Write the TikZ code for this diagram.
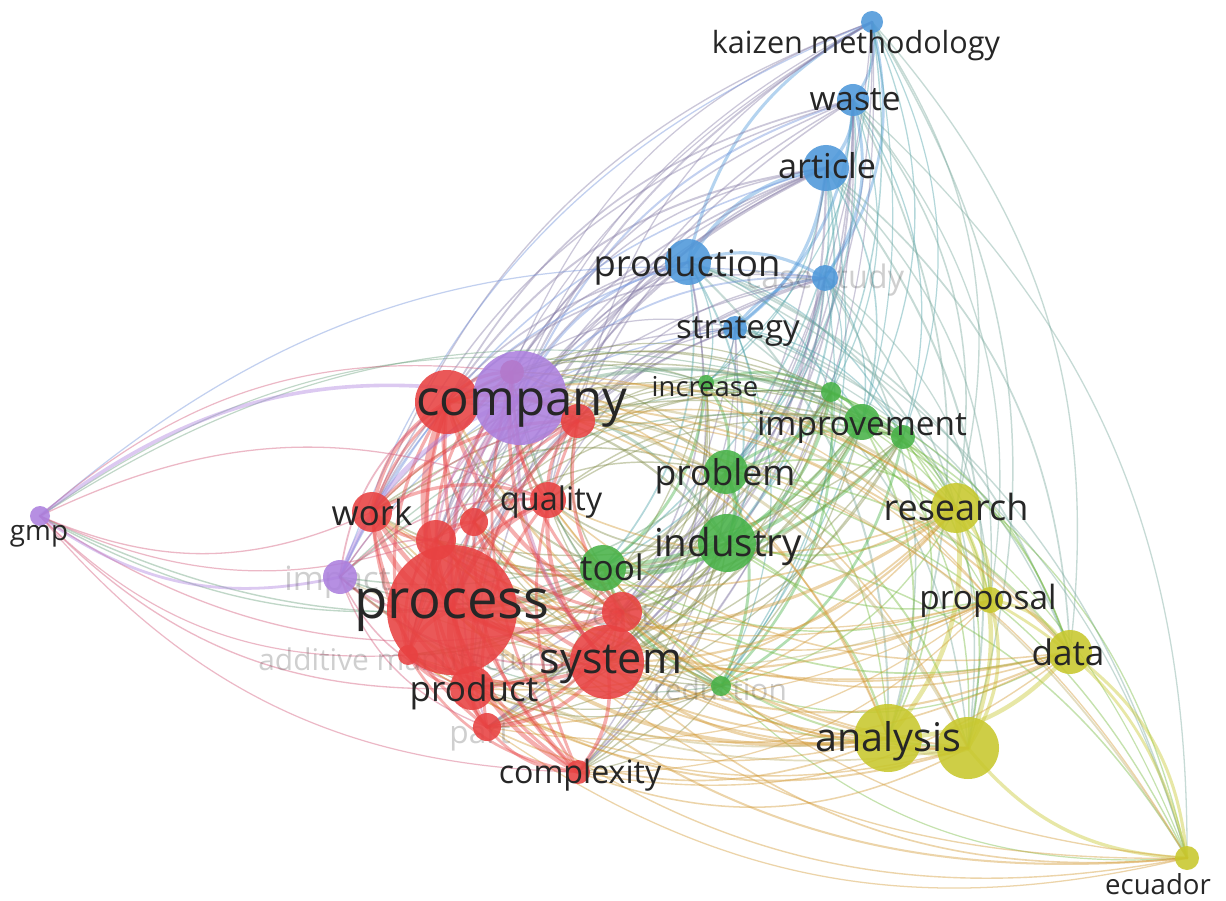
\documentclass[tikz,border=0pt]{standalone}
\usepackage{fontspec}
\setmainfont{Open Sans}
\usetikzlibrary{calc}
\definecolor{vred}{RGB}{232,66,66}
\definecolor{vgreen}{RGB}{72,178,72}
\definecolor{vblue}{RGB}{78,152,218}
\definecolor{vyellow}{RGB}{200,200,45}
\definecolor{vpurple}{RGB}{172,128,222}
\def\kw#1(#2)#3#4{\node[term,font=\fontsize{#3}{#3}\selectfont] (#1) at (#2) {#4};}
\def\fkw#1(#2)#3#4{\node[faded,font=\fontsize{#3}{#3}\selectfont] (#1) at (#2) {#4};}
\def\kwlist{kaizen/872/22/11/vblue, waste/853/100/16/vblue, article/826/168/23/vblue,
  production/688/262/23/vblue, casestudy/825/278/13/vblue, strategy/735/328/12/vblue,
  increase/706/383/8/vgreen, grnA/831/392/10/vgreen, improvement/862/422/18/vgreen,
  grnB/903/437/12/vgreen, problem/726/472/22/vgreen, industry/727/543/29/vgreen,
  tool/603/568/23/vgreen, reduction/721/686/10/vgreen,
  research/956/508/25/vyellow, proposal/990/600/13/vyellow, data/1070/652/22/vyellow,
  analysis/888/738/34/vyellow, ylwA/968/748/31/vyellow, ecuador/1187/858/12/vyellow,
  redA/447/402/32/vred, redB/512/372/12/vred, company/520/398/47/vpurple,
  redC/578/421/17/vred, work/372/512/20/vred, redD/436/540/20/vred, redE/474/522/14/vred,
  quality/548/500/18/vred, process/452/610/65/vred, cost/622/612/20/vred,
  system/607/662/37/vred, additive/408/655/10/vred, product/472/688/22/vred,
  part/487/727/14/vred, complexity/578/772/12/vred,
  gmp/40/516/10/vpurple, impact/340/577/17/vpurple}

\begin{document}
\begin{tikzpicture}[x=0.2mm, y=-0.2mm,
    term/.style={text=black!85, inner sep=0pt, text height=2.9ex, text depth=0pt},
    faded/.style={term, text opacity=0.22},
    link/.style={line cap=round, draw opacity=0.42}]
  %%%%% START %%%%%

  \useasboundingbox (0,0) rectangle (1226,901);
  \fill[white] (0,0) rectangle (1226,901);

  \foreach \n/\x/\y/\r/\c in \kwlist
    \coordinate (\n) at (\x,\y);

  % links, curved away from the middle of the map
  \foreach \a/\xa/\ya/\ra/\ca [count=\i] in \kwlist {
    \foreach \b/\xb/\yb/\rb/\cb [count=\j] in \kwlist {
      \ifnum\j>\i
        \pgfmathsetmacro\dist{veclen((\xb-\xa)/100,(\yb-\ya)/100)}
        \pgfmathtruncatemacro\keep{(mod(7*\i+3*\j,5)>1) && (\dist<8.5)}
        \ifnum\keep=1
          \pgfmathsetmacro\side{(\yb-\ya)/100*((\xa+\xb)/2-600)/100-(\xb-\xa)/100*((\ya+\yb)/2-500)/100}
          \pgfmathsetmacro\bnd{\side>0 ? 24 : -24}
          \pgfmathsetmacro\lw{0.6+\ra*\rb/1400}
          \ifx\ca\cb \pgfmathsetmacro\lw{2.2*\lw}\fi
          \draw[link, \ca!65!\cb, line width=\lw pt] (\a) to[bend left=\bnd] (\b);
        \fi
      \fi
    }
  }

  \fkw{t-casestudy}(825,275){18.4}{case study}
  \fkw{t-reduction}(720,687){17}{reduction}
  \fkw{t-cost}(622,612){18}{cost}
  \fkw{t-part}(480,730){18}{part}
  \node[faded, anchor=west, font=\fontsize{17}{17}\selectfont] (t-additive) at (258,657) {additive manufacturing};
  \node[faded, anchor=west, font=\fontsize{19}{19}\selectfont] (t-impact) at (284,577) {impact};

  \foreach \n/\x/\y/\r/\c in \kwlist
    \fill[\c, fill opacity=0.88] (\n) circle[radius=0.2mm*\r];

  \kw{t-kaizen}(856,40){17.4}{kaizen methodology}
  \kw{t-waste}(855,97){19}{waste}
  \kw{t-article}(827,165){19.5}{article}
  \kw{t-production}(687,263){20.7}{production}
  \kw{t-strategy}(738,325){18.8}{strategy}
  \kw{t-increase}(705,383){15.6}{increase}
  \kw{t-improvement}(862,422){19}{improvement}
  \kw{t-problem}(725,472){20.2}{problem}
  \kw{t-industry}(728,543){21.9}{industry}
  \kw{t-tool}(612,567){20}{tool}
  \kw{t-research}(956,507){20.5}{research}
  \kw{t-proposal}(988,596){19}{proposal}
  \kw{t-data}(1068,652){20}{data}
  \kw{t-analysis}(888,738){22.5}{analysis}
  \kw{t-ecuador}(1158,881){15.7}{ecuador}
  \kw{t-company}(522,402){28}{company}
  \kw{t-process}(452,605){31}{process}
  \kw{t-work}(372,512){19.8}{work}
  \kw{t-quality}(551,497){18.5}{quality}
  \kw{t-system}(611,660){24.5}{system}
  \kw{t-product}(474,688){20}{product}
  \kw{t-complexity}(580,770){18.3}{complexity}
  \kw{t-gmp}(39,527){15.8}{gmp}

  %%%%% END %%%%%
\end{tikzpicture}
\end{document}
